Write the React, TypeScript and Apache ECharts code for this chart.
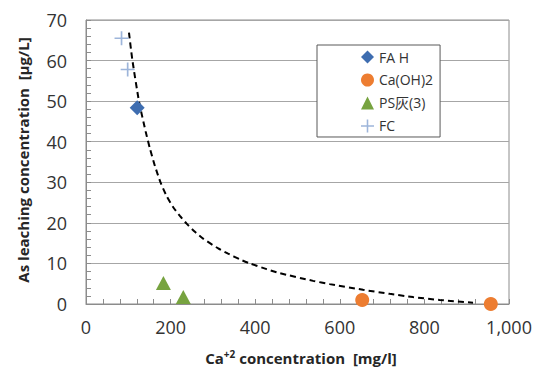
import React, { useEffect, useRef } from "react";
import * as echarts from "echarts";

// Data
const faH: number[][] = [[121, 48.4]];
const caOH2: number[][] = [[653, 1.0], [957, 0]];
const psAsh: number[][] = [[183, 5.2], [230, 1.7]];
const fc: number[][] = [[84, 65.5], [98.5, 57.8]];
const trendCurve: number[][] = [
  [101.6, 66.9], [109.4, 60.3], [125.2, 50.0], [141, 42.5], [151.2, 38.3],
  [163, 34.0], [176.4, 29.9], [190.6, 26.6], [206.2, 23.85], [222, 21.7],
  [237.9, 19.8], [257.5, 17.8], [277, 16.1], [312.6, 13.7], [336, 12.4],
  [363.8, 11.0], [387.4, 10.0], [427, 8.6], [458, 7.6], [537, 5.7],
  [576, 4.9], [655, 3.5], [718, 2.5], [773, 1.7], [836, 1.0], [915, 0.3],
];
const seriesNames = ["FA H", "Ca(OH)2", "PS灰(3)", "FC"];
const xTicks = { min: 0, max: 1000, interval: 200 };
const yTicks = { min: 0, max: 70, interval: 10 };

const FONT = "'Open Sans', 'Noto Sans CJK JP', sans-serif";
const CROSS =
  "path://M4.4,0 L5.6,0 L5.6,4.4 L10,4.4 L10,5.6 L5.6,5.6 L5.6,10 L4.4,10 L4.4,5.6 L0,5.6 L0,4.4 L4.4,4.4 Z";

export default function App() {
  const ref = useRef<HTMLDivElement>(null);
  useEffect(() => {
    document.body.style.margin = "0";
    if (!ref.current) return;
    const chart = echarts.init(ref.current, undefined, { renderer: "svg" });
    const axisColor = "#8c8c8c";
    chart.setOption({
      animation: false,
      backgroundColor: "#ffffff",
      grid: {
        left: 86,
        top: 20,
        right: 30,
        bottom: 68,
        show: true,
        borderColor: axisColor,
        borderWidth: 1,
        backgroundColor: "transparent",
      },
      xAxis: {
        type: "value",
        min: xTicks.min,
        max: xTicks.max,
        interval: xTicks.interval,
        axisLine: { show: true, lineStyle: { color: axisColor, width: 1 } },
        axisTick: { show: true, inside: true, length: 5, lineStyle: { color: axisColor } },
        minorTick: { show: true, splitNumber: 5, length: 5, lineStyle: { color: axisColor } },
        splitLine: { show: false },
        axisLabel: {
          margin: 14,
          fontFamily: FONT,
          fontSize: 18,
          color: "#333333",
          formatter: (v: number) => v.toLocaleString("en-US"),
        },
      },
      yAxis: {
        type: "value",
        min: yTicks.min,
        max: yTicks.max,
        interval: yTicks.interval,
        axisLine: { show: true, lineStyle: { color: axisColor, width: 1 } },
        axisTick: { show: true, inside: true, length: 5, lineStyle: { color: axisColor } },
        minorTick: { show: true, splitNumber: 5, length: 5, lineStyle: { color: axisColor } },
        splitLine: { show: true, lineStyle: { color: "#a6a6a6", width: 1 } },
        axisLabel: {
          margin: 19,
          fontFamily: FONT,
          fontSize: 18,
          color: "#333333",
        },
      },
      legend: {
        data: seriesNames,
        orient: "vertical",
        left: 317,
        top: 45,
        backgroundColor: "#ffffff",
        borderColor: "#595959",
        borderWidth: 1,
        borderRadius: 0,
        padding: [5, 7, 4, 44],
        itemGap: 9,
        itemWidth: 13,
        itemHeight: 13,
        textStyle: { fontFamily: FONT, fontSize: 14, color: "#333333" },
        z: 10,
      },
      graphic: [
        {
          type: "text",
          x: 23,
          y: 160,
          rotation: Math.PI / 2,
          style: {
            text: "As leaching concentration  [μg/L]",
            fontFamily: FONT,
            fontSize: 15,
            fontWeight: "bold",
            fill: "#262626",
            align: "center",
            verticalAlign: "middle",
          },
        },
        {
          type: "text",
          x: 301,
          y: 358,
          style: {
            text: "Ca{sup|+2} concentration  [mg/l]",
            fontFamily: FONT,
            fontSize: 15,
            fontWeight: "bold",
            fill: "#262626",
            align: "center",
            verticalAlign: "middle",
            rich: {
              sup: {
                fontFamily: FONT,
                fontSize: 10,
                fontWeight: "bold",
                fill: "#262626",
                padding: [0, 0, 8, 0],
              },
            },
          },
        },
      ],
      series: [
        {
          name: "trend",
          type: "line",
          data: trendCurve,
          smooth: 0.2,
          showSymbol: false,
          symbol: "none",
          lineStyle: { color: "#000000", width: 2, type: [6, 4] },
          z: 2,
          silent: true,
        },
        {
          name: seriesNames[0],
          type: "scatter",
          data: faH,
          symbol: "diamond",
          symbolSize: [15, 15],
          itemStyle: { color: "#3e6db0", opacity: 1 },
          z: 3,
        },
        {
          name: seriesNames[1],
          type: "scatter",
          data: caOH2,
          symbol: "circle",
          symbolSize: 14,
          itemStyle: { color: "#ed7d31", opacity: 1 },
          z: 3,
        },
        {
          name: seriesNames[2],
          type: "scatter",
          data: psAsh,
          symbol: "triangle",
          symbolSize: [15, 14],
          itemStyle: { color: "#77a340", opacity: 1 },
          z: 3,
        },
        {
          name: seriesNames[3],
          type: "scatter",
          data: fc,
          symbol: CROSS,
          symbolSize: 14,
          itemStyle: { color: "#9db5da", opacity: 1 },
          z: 3,
        },
      ],
    });
    return () => chart.dispose();
  }, []);
  return <div ref={ref} style={{ width: 539, height: 372 }} />;
}
